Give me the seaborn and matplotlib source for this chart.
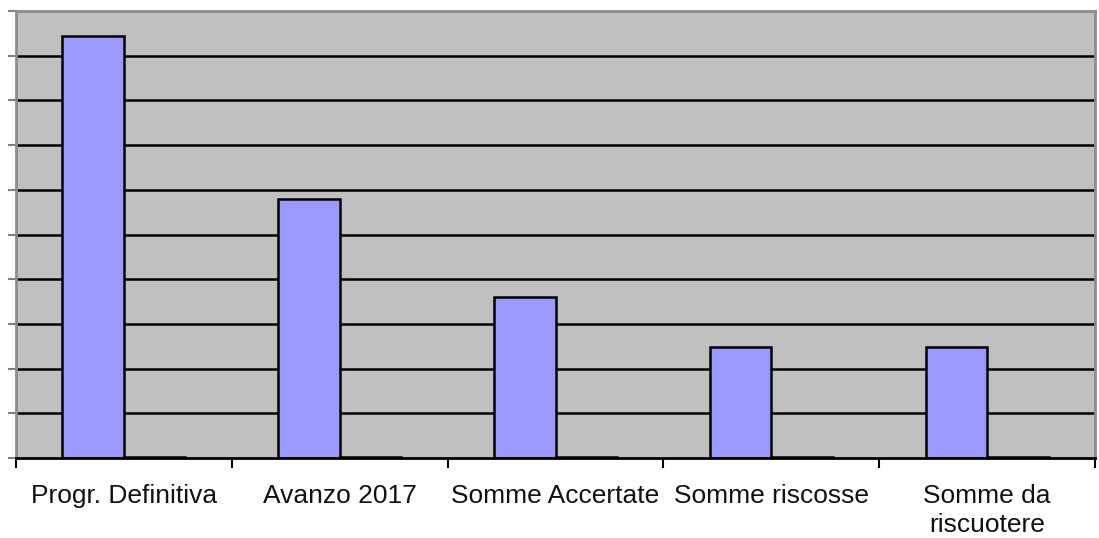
import matplotlib
matplotlib.use("Agg")
import matplotlib.pyplot as plt
import seaborn as sns
import pandas as pd
import numpy as np

categories = ["Progr. Definitiva", "Avanzo 2017", "Somme Accertate", "Somme riscosse", "Somme da\nriscuotere"]
series_a = [9.44, 5.79, 3.60, 2.48, 2.48]
series_b = [0.02, 0.02, 0.02, 0.02, 0.02]
series_names = ["A", "B"]

df = pd.DataFrame({
    "cat": categories * 2,
    "val": series_a + series_b,
    "ser": [series_names[0]] * 5 + [series_names[1]] * 5,
})

sns.set_style("white")
plt.rcParams["font.family"] = ["Liberation Sans", "DejaVu Sans"]

fig = plt.figure(figsize=(10.99, 5.38), dpi=100)
ax = fig.add_axes([16 / 1099, 80 / 538, (1095 - 16) / 1099, (458 - 11) / 538])
ax.set_facecolor("#C0C0C0")

sns.barplot(data=df, x="cat", y="val", hue="ser", order=categories,
            palette=["#9999FF", "#9999FF"], saturation=1, edgecolor="black", linewidth=1.8,
            width=0.57, gap=0, ax=ax, legend=False, zorder=3)

ax.set_ylim(0, 10)
ax.set_xlim(-0.5, 4.5)
ax.set_yticks(np.arange(0, 11, 1))
ax.set_yticklabels([])
ax.tick_params(axis="y", length=6, color="#808080", width=1.5, direction="out", left=True)
for yv in range(1, 10):
    ax.axhline(yv, color="black", linewidth=1.8, zorder=1)

ax.set_xticks(np.arange(-0.5, 5, 1))
ax.set_xticklabels([])
ax.tick_params(axis="x", which="major", length=7, color="black", width=1.5, direction="out", bottom=True)
ax.set_xticks(np.arange(0, 5, 1), minor=True)
ax.set_xticklabels(categories, minor=True, fontsize=19, color="#111111", linespacing=1.25)
ax.tick_params(axis="x", which="minor", length=0, pad=19)

ax.set_xlabel("")
ax.set_ylabel("")
for s in ["top", "right", "left"]:
    ax.spines[s].set_color("#8C8C8C")
    ax.spines[s].set_linewidth(2)
ax.spines["bottom"].set_color("black")
ax.spines["bottom"].set_linewidth(2)
ax.spines["bottom"].set_zorder(5)

fig.savefig("out.png", dpi=100)
